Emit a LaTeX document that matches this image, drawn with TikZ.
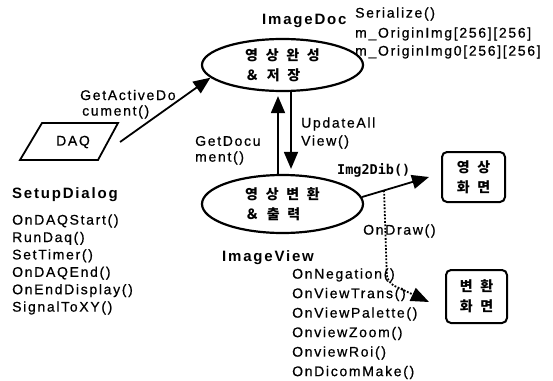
\documentclass[tikz,border=0pt]{standalone}
\usepackage{fontspec}
\setmainfont{Liberation Sans}[LetterSpace=12, UprightFeatures={FakeBold=0.6}]
\newfontfamily\krfont{Noto Sans CJK KR}[LetterSpace=55]
\newfontfamily\monofont{DejaVu Sans Mono}
\usetikzlibrary{shapes.geometric,arrows.meta}
\tikzset{
  lbl/.style={anchor=west, inner sep=0pt, font=\fontsize{14}{17}\selectfont},
  hdr/.style={anchor=west, inner sep=0pt, font=\fontsize{15}{18}\selectfont\bfseries},
  kr/.style={font=\krfont\bfseries\fontsize{14}{20}\selectfont, align=left},
  bubble/.style={ellipse, draw, line width=2.2pt, minimum width=161pt, inner sep=0pt},
  scr/.style={draw, rounded corners=5pt, line width=2pt, inner sep=0pt, kr},
  arr/.style={line width=1.8pt, -{Triangle[length=17pt,width=14pt]}},
  dotarr/.style={line width=1.8pt, dash pattern=on 1.8pt off 1.6pt, -{Triangle[length=18pt,width=14pt]}}
}
\begin{document}
\begin{tikzpicture}[x=1pt,y=-1pt]
\useasboundingbox[fill=white] (0,0) rectangle (553,380);
% ImageDoc
\node[hdr] (docname) at (262,21) {ImageDoc};
\node[lbl] (ser) at (355,14) {Serialize()};
\node[lbl] (m1) at (355,34) {m\_OriginImg[256][256]};
\node[lbl] (m2) at (355,52) {m\_OriginImg0[256][256]};
\node[bubble, minimum height=52pt, kr] (doc) at (282.5,65) {영상완성\\＆저장};
% DAQ
\draw[line width=1.8pt] (20,160) -- (42,123) -- (118,123) -- (98,160) -- cycle;
\node[lbl, anchor=center] (daq) at (73,142) {DAQ};
\draw[arr] ([xshift=30pt]daq.east) -- (doc.190);
\node[lbl] (gad1) at (80,95) {GetActiveDo};
\node[lbl] (gad2) at (82,112) {cument()};
% SetupDialog
\node[hdr] (setup) at (12,195) {SetupDialog};
\node[lbl] (s1) at (12,221) {OnDAQStart()};
\node[lbl] (s2) at (12,238.4) {RunDaq()};
\node[lbl] (s3) at (12,255.8) {SetTimer()};
\node[lbl] (s4) at (12,273.2) {OnDAQEnd()};
\node[lbl] (s5) at (12,290.6) {OnEndDisplay()};
\node[lbl] (s6) at (12,308) {SignalToXY()};
% ImageView
\node[bubble, minimum height=58pt, kr] (view) at (282.5,204) {영상변환\\＆출력};
\draw[arr] ([xshift=-4.5pt]view.north) -- ([xshift=-4.5pt,yshift=-4pt]doc.south);
\draw[arr] ([xshift=8.5pt]doc.south) -- ([xshift=8.5pt,yshift=5pt]view.north);
\node[lbl] (gd1) at (195,141) {GetDocu};
\node[lbl] (gd2) at (195,158) {ment()};
\node[lbl] (ua1) at (301,124) {UpdateAll};
\node[lbl] (ua2) at (301,142) {View()};
% screens
\node[scr, minimum width=63pt, minimum height=50pt] (scr1) at (473.5,177) {영상\\화면};
\node[scr, minimum width=61pt, minimum height=53pt] (scr2) at (476.5,296.5) {변환\\화면};
\draw[arr] (view.5) -- coordinate[pos=0.33] (od) ([xshift=-12pt]scr1.west);
\node[anchor=west, inner sep=0pt, font=\monofont\bfseries\fontsize{13.5}{16}\selectfont] (i2d) at (337,170) {Img2Dib()};
\draw[dotarr, rounded corners=8pt] (od) -- ++(3,92) -- ([xshift=-16pt,yshift=-5.5pt]scr2.west);
\node[lbl] (ondraw) at (363,231) {OnDraw()};
\node[hdr] (iview) at (222,258) {ImageView};
\node[lbl] (v1) at (292,275) {OnNegation()};
\node[lbl] (v2) at (292,294.5) {OnViewTrans()};
\node[lbl] (v3) at (292,314) {OnViewPalette()};
\node[lbl] (v4) at (292,333.5) {OnviewZoom()};
\node[lbl] (v5) at (292,353) {OnviewRoi()};
\node[lbl] (v6) at (292,372.5) {OnDicomMake()};
\end{tikzpicture}
\end{document}
